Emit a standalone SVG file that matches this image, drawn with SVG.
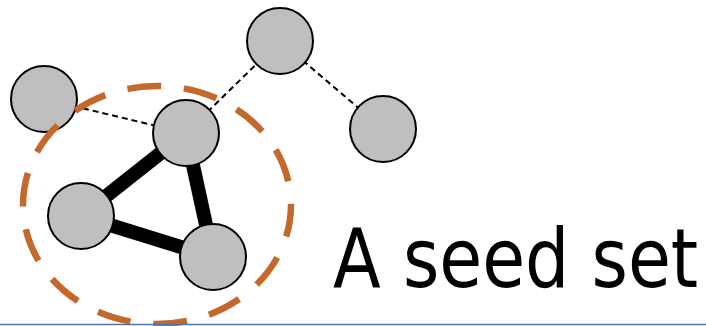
<svg xmlns="http://www.w3.org/2000/svg" width="706" height="326" viewBox="0 0 706 326">
<style>
.node{fill:#BFBFBF;stroke:#000;stroke-width:2}
.weak{stroke:#000;stroke-width:2;stroke-dasharray:6 4;fill:none}
.strong{stroke:#000;stroke-width:14;fill:none}
.seed{fill:none;stroke:#C4682B;stroke-width:6.5;stroke-dasharray:34 22.86}
.label{font-family:"DejaVu Sans","Liberation Sans",sans-serif;font-size:82px;fill:#000}
</style>
<rect width="706" height="326" fill="#fff"/>
<g id="connectors">
<line class="weak" x1="44" y1="99" x2="186" y2="133"/>
<line class="weak" x1="186" y1="133" x2="280" y2="41"/>
<line class="weak" x1="280" y1="41" x2="383" y2="129"/>
<line class="strong" x1="186" y1="133" x2="81" y2="216"/>
<line class="strong" x1="186" y1="133" x2="213" y2="257"/>
<line class="strong" x1="81" y1="216" x2="213" y2="257"/>
</g>
<g id="n1"><circle class="node" cx="44" cy="99" r="33"/></g>
<g id="n2"><circle class="node" cx="186" cy="133" r="33"/></g>
<g id="n3"><circle class="node" cx="280" cy="41" r="33"/></g>
<g id="n4"><circle class="node" cx="383" cy="129" r="33"/></g>
<g id="n5"><circle class="node" cx="81" cy="216" r="33"/></g>
<g id="n6"><circle class="node" cx="213" cy="257" r="33"/></g>
<g id="seedset"><ellipse class="seed" cx="157" cy="205" rx="134" ry="119" stroke-dashoffset="2"/></g>
<g id="caption" transform="translate(333,287) scale(0.851,1)"><text class="label" x="0" y="0">A seed set</text></g>
<line x1="0" y1="324.5" x2="706" y2="324.5" stroke="#4A76B4" stroke-width="1.5"/>
</svg>
